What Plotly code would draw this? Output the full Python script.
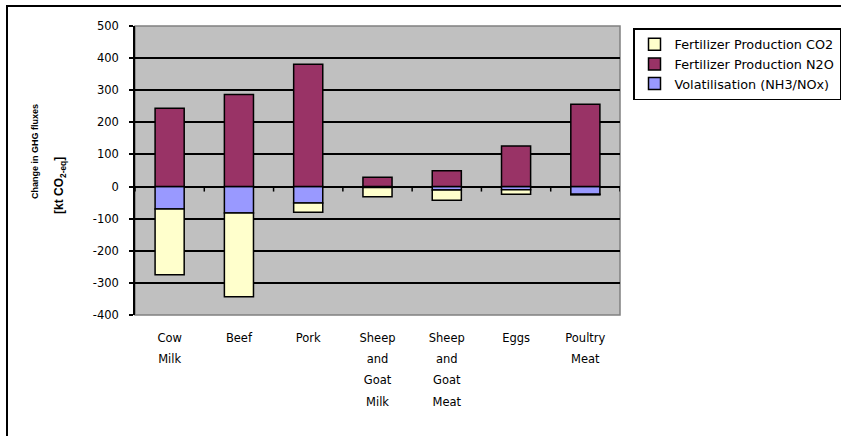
import plotly.graph_objects as go

categories = ["Cow<br>Milk", "Beef", "Pork", "Sheep<br>and<br>Goat<br>Milk",
              "Sheep<br>and<br>Goat<br>Meat", "Eggs", "Poultry<br>Meat"]
fert_co2 = [-205, -261, -29, -29, -32, -14, -2]
fert_n2o = [244, 287, 381, 29, 49, 126, 256]
volatilisation = [-70, -82, -51, -3, -11, -10, -24]

y_ticks = [500, 400, 300, 200, 100, 0, -100, -200, -300, -400]
y_tick_text = [str(v) for v in y_ticks]

W, H = 841, 436
ML, MR, MT, MB = 135, 221, 26, 121
PW, PH = W - ML - MR, H - MT - MB

def px_x(p):
    return (p - ML) / PW

def px_y(p):
    return (H - MB - p) / PH

font = "DejaVu Sans, Liberation Sans, Arial, sans-serif"
title_font = "Liberation Sans, Arial, sans-serif"
x_idx = list(range(len(categories)))

tick_text = ["<br>".join("<span style='font-size:11.5px'>%s</span>" % part
                         for part in c.split("<br>")) for c in categories]

fig = go.Figure()
fig.add_trace(go.Bar(x=x_idx, y=volatilisation, name="Volatilisation (NH3/NOx)",
                     marker=dict(color="#9999FF", line=dict(color="black", width=1.5)),
                     legendrank=3))
fig.add_trace(go.Bar(x=x_idx, y=fert_co2, name="Fertilizer Production CO2",
                     marker=dict(color="#FFFFCC", line=dict(color="black", width=1.5)),
                     legendrank=1))
fig.add_trace(go.Bar(x=x_idx, y=fert_n2o, name="Fertilizer Production N2O",
                     marker=dict(color="#993366", line=dict(color="black", width=1.5)),
                     legendrank=2))

shapes = []
for i in range(len(categories) + 1):
    shapes.append(dict(type="line", xref="x", yref="y", x0=i - 0.5, x1=i - 0.5,
                       ysizemode="pixel", yanchor=0, y0=0, y1=-5,
                       line=dict(color="black", width=1.5), layer="above"))
shapes.append(dict(type="rect", xref="paper", yref="paper", x0=0, x1=1, y0=0, y1=1,
                   line=dict(color="#808080", width=1.5), layer="below"))
shapes.append(dict(type="rect", xref="paper", yref="paper",
                   x0=px_x(7), x1=px_x(900), y0=px_y(500), y1=px_y(6),
                   line=dict(color="black", width=2)))

fig.update_layout(
    width=W, height=H,
    autosize=False,
    margin=dict(l=ML, r=MR, t=MT, b=MB, pad=0, autoexpand=False),
    paper_bgcolor="white",
    plot_bgcolor="#C0C0C0",
    barmode="relative",
    bargap=0.58,
    font=dict(family=font, size=12, color="black"),
    showlegend=True,
    legend=dict(x=px_x(633), y=px_y(28), xanchor="left", yanchor="top",
                bgcolor="white", bordercolor="black", borderwidth=1.5,
                font=dict(family=font, size=12.8, color="black"),
                traceorder="normal", itemwidth=30),
    xaxis=dict(tickmode="array", tickvals=x_idx, ticktext=tick_text,
               range=[-0.5, len(categories) - 0.5],
               showgrid=False, zeroline=False, showline=False, ticks="",
               tickfont=dict(family=font, size=16.5, color="black"),
               ticklabelstandoff=9),
    yaxis=dict(range=[-400, 500], tickmode="array", tickvals=y_ticks,
               ticktext=y_tick_text,
               showgrid=True, gridcolor="black", gridwidth=1.5,
               zeroline=True, zerolinecolor="black", zerolinewidth=1.5,
               showline=True, linecolor="black", linewidth=1.5,
               ticks="outside", ticklen=4, tickcolor="black", tickwidth=1.5,
               ticklabelstandoff=8,
               tickfont=dict(family=font, size=11.5, color="black")),
    shapes=shapes,
    annotations=[
        dict(text="<b>Change in GHG fluxes</b>", xref="paper", yref="paper",
             x=px_x(35), y=px_y(152), textangle=-90, showarrow=False,
             xanchor="center", yanchor="middle",
             font=dict(family=title_font, size=9, color="black")),
        dict(text="<b>[kt CO<sub>2-eq</sub>]</b>", xref="paper", yref="paper",
             x=px_x(60), y=px_y(186), textangle=-90, showarrow=False,
             xanchor="center", yanchor="middle",
             font=dict(family=title_font, size=12, color="black")),
    ],
)

fig.write_html("out.html",
               config={"displayModeBar": False, "responsive": False},
               post_script="document.body.style.margin='0';"
                           "document.body.style.overflow='hidden';")
